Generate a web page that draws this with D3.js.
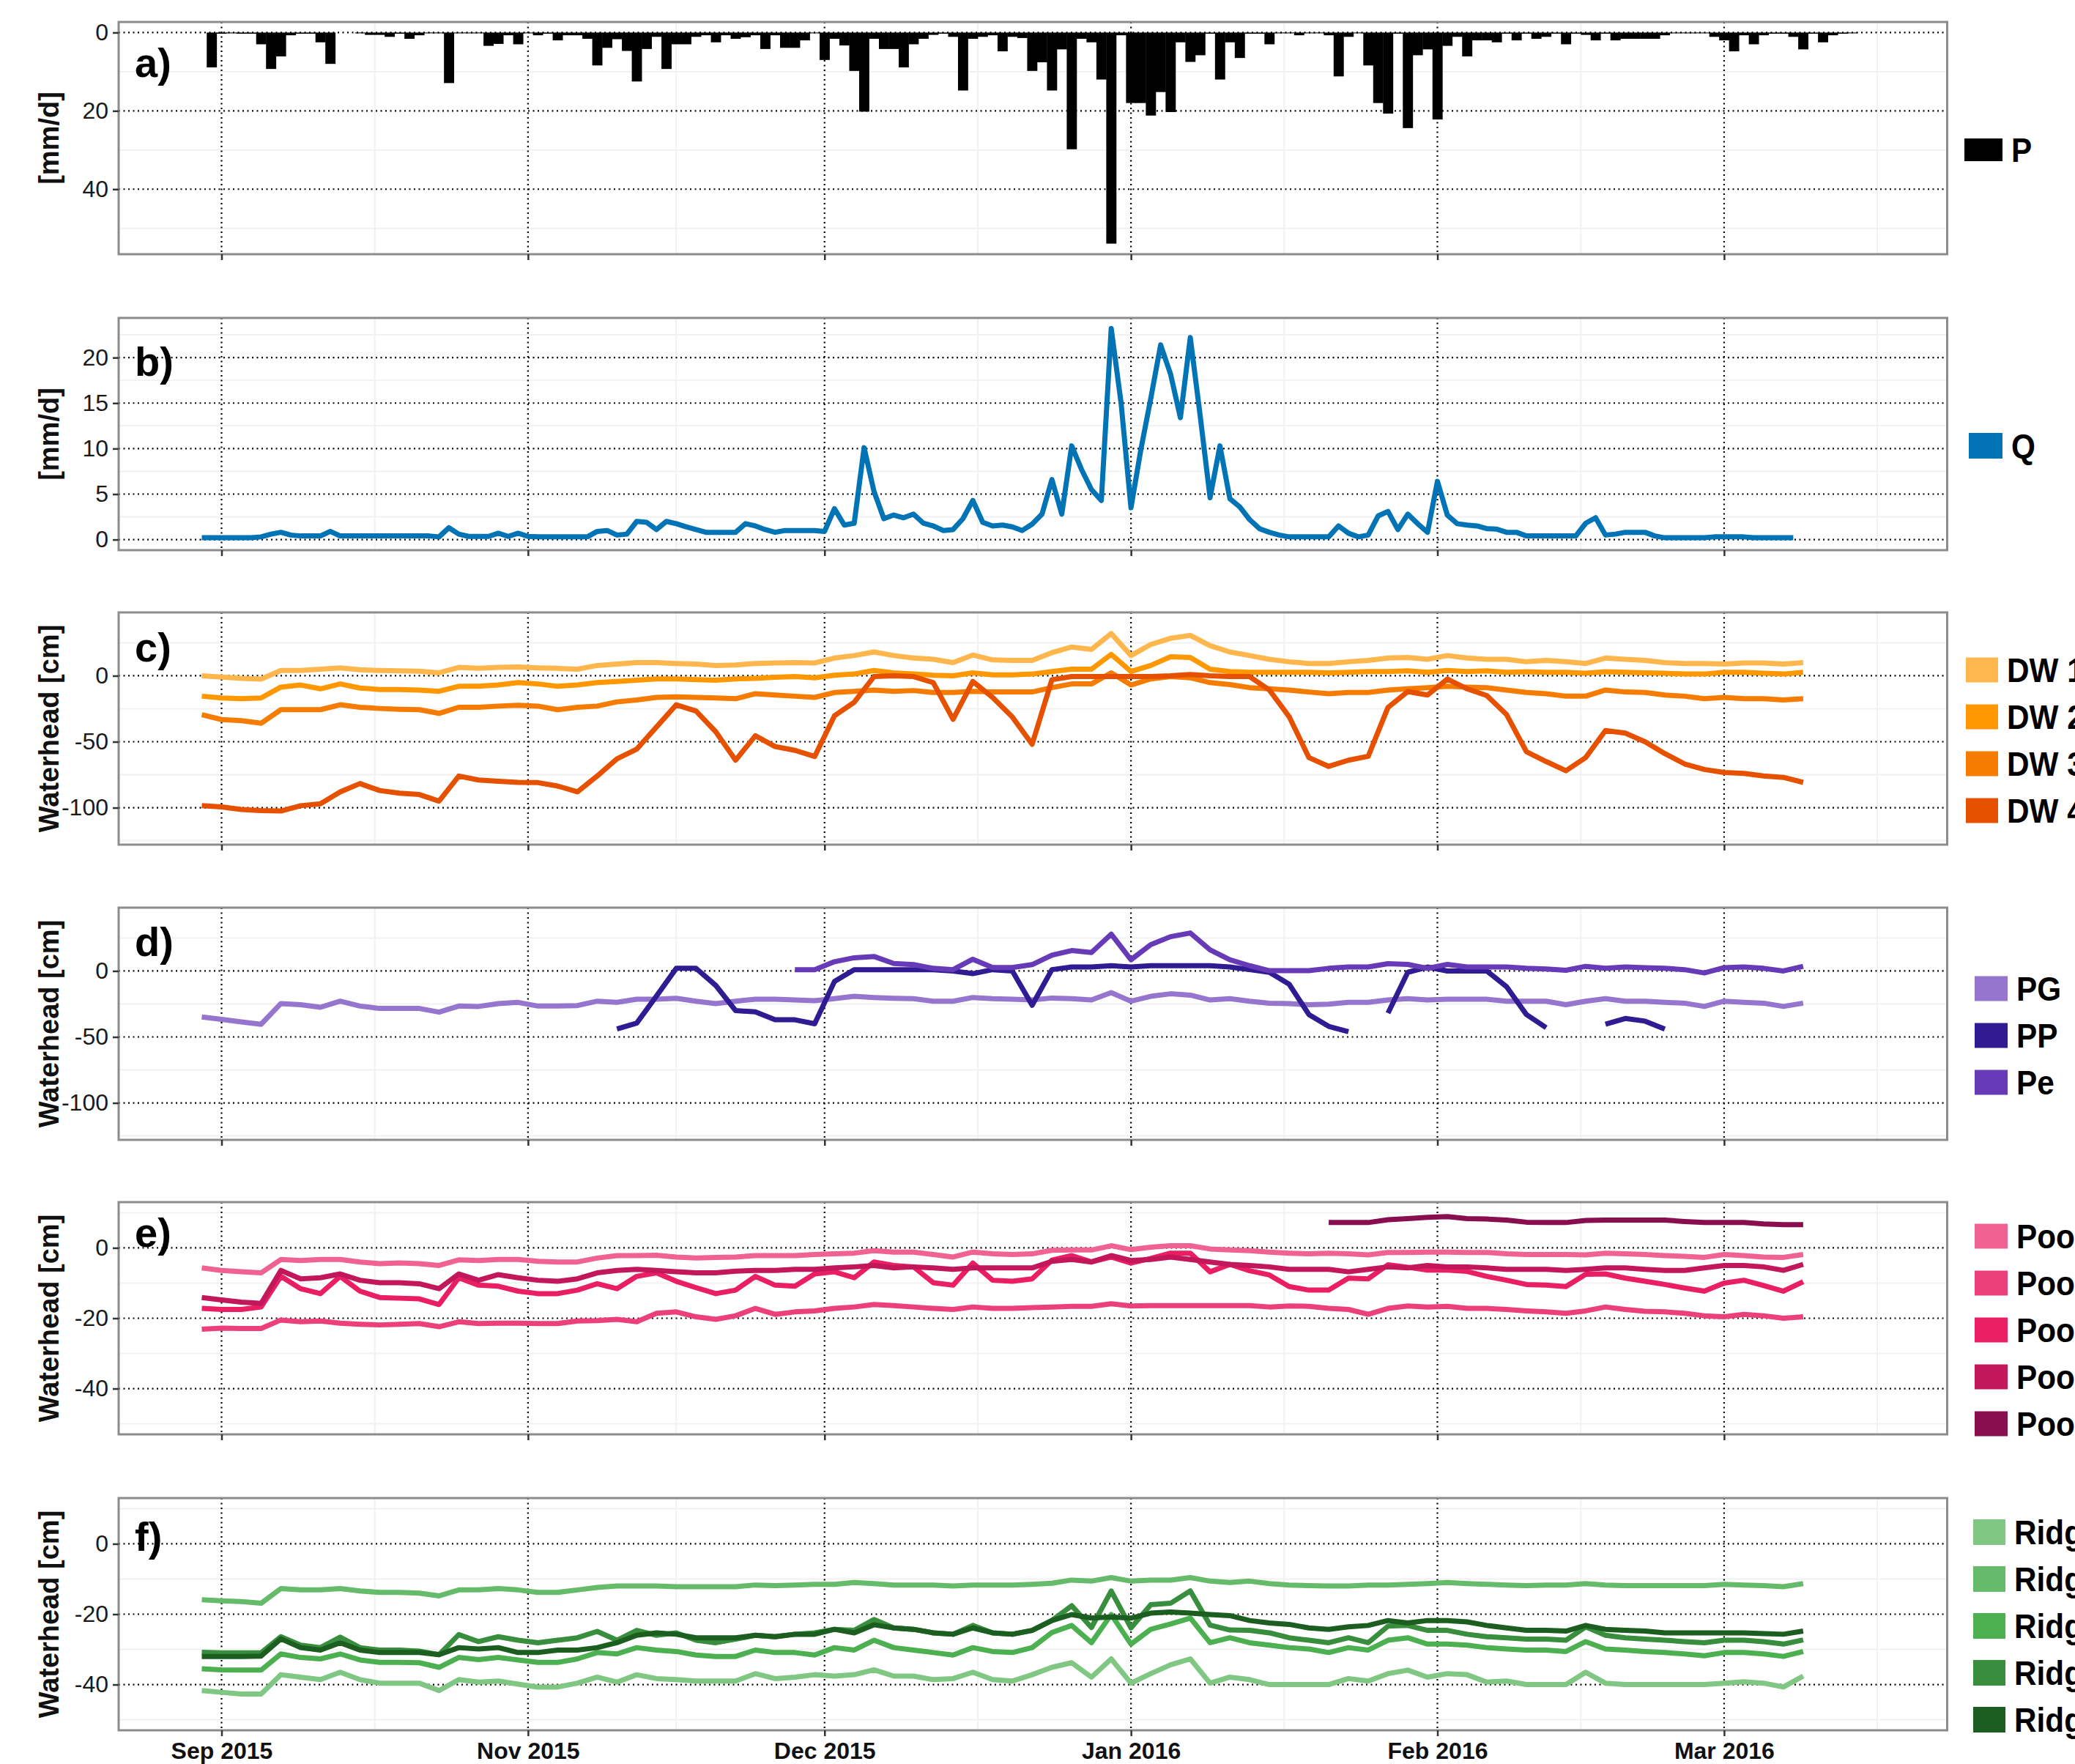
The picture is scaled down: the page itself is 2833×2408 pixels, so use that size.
<!DOCTYPE html>
<html>
<head>
<meta charset="utf-8">
<script src="https://cdn.jsdelivr.net/npm/d3@7"></script>
<style>
  html, body { margin: 0; padding: 0; background: #fff; }
  svg { display: block; }
</style>
</head>
<body>
<svg id="chart" width="2833" height="2408"></svg>
<script>
// ---------------------------------------------------------------------------
// Data
// ---------------------------------------------------------------------------

// a) daily precipitation P [mm/d], one value per day from this date
const precipStart = "2015-09-30";
const precip = [
  8.9, 0.3, 0.2, 0.3, 0.3, 3.0, 9.3, 6.1, 0.7, 0.3,
  0.3, 2.5, 8.0, 0, 0, 0.2, 0.6, 0.6, 1.1, 0.3,
  1.6, 0.7, 0.2, 0.2, 12.9, 0.2, 0.2, 0.2, 3.4, 2.9,
  0.7, 3.0, 0.2, 0.7, 0.3, 2.0, 0.7, 0.7, 1.6, 8.4,
  3.9, 1.7, 4.7, 12.5, 4.2, 1.1, 9.3, 3.0, 3.0, 1.1,
  0.7, 2.5, 0.7, 1.6, 1.2, 0.7, 4.2, 0.7, 3.9, 3.9,
  2.0, 0.2, 7.0, 1.6, 3.3, 9.8, 20.2, 1.6, 4.2, 4.2,
  8.9, 3.0, 1.6, 0.6, 0.3, 1.1, 14.8, 1.6, 1.1, 0.7,
  4.8, 1.1, 1.4, 9.8, 7.6, 14.8, 4.3, 29.8, 1.6, 2.5,
  12.0, 53.9, 0.7, 18.0, 18.0, 21.2, 15.2, 20.3, 2.5, 7.5,
  5.8, 0.3, 12.0, 2.5, 6.5, 0.3, 0.3, 3.0, 0.2, 0.2,
  0.7, 0.2, 0.2, 0.7, 11.2, 1.1, 0.2, 8.4, 18.0, 20.7,
  0.3, 24.4, 5.8, 4.3, 22.2, 3.4, 1.1, 6.1, 2.0, 2.0,
  2.5, 0.3, 2.0, 0.3, 1.6, 1.1, 0.3, 3.0, 0.3, 0.6,
  2.0, 0.3, 2.0, 1.6, 1.6, 1.6, 1.6, 0.7, 0.2, 0.2,
  0.2, 0.2, 1.1, 2.0, 4.8, 0.7, 3.0, 0.7, 0.3, 0.3,
  1.1, 4.3, 0.3, 2.5, 0.7, 0.3, 0.2
];

// b) daily discharge Q [mm/d]
const dischargeStart = "2015-09-29";
const discharge = [
  0.2, 0.2, 0.2, 0.2, 0.2, 0.2, 0.3, 0.6, 0.8, 0.5, 0.4,
  0.4, 0.4, 0.9, 0.4, 0.4, 0.4, 0.4, 0.4, 0.4, 0.4,
  0.4, 0.4, 0.4, 0.3, 1.3, 0.6, 0.35, 0.35, 0.35, 0.7,
  0.35, 0.7, 0.35, 0.3, 0.3, 0.3, 0.3, 0.3, 0.3, 0.9,
  1.0, 0.5, 0.6, 2.0, 1.9, 1.1, 2.0, 1.75, 1.4, 1.1,
  0.8, 0.8, 0.8, 0.8, 1.75, 1.5, 1.1, 0.8, 1.0, 1.0,
  1.0, 1.0, 0.9, 3.4, 1.6, 1.8, 10.1, 5.3, 2.3, 2.7,
  2.4, 2.8, 1.8, 1.5, 1.0, 1.1, 2.3, 4.3, 1.9, 1.5,
  1.6, 1.4, 1.0, 1.7, 2.8, 6.6, 2.8, 10.3, 7.7, 5.5,
  4.3, 23.2, 15.0, 3.5, 9.9, 15.5, 21.4, 18.2, 13.4, 22.2,
  13.6, 4.6, 10.3, 4.5, 3.6, 2.2, 1.2, 0.8, 0.5, 0.3,
  0.3, 0.3, 0.3, 0.3, 1.5, 0.7, 0.3, 0.5, 2.6, 3.1,
  1.1, 2.8, 1.75, 0.8, 6.4, 2.7, 1.75, 1.6, 1.5, 1.2,
  1.15, 0.8, 0.8, 0.4, 0.4, 0.4, 0.4, 0.4, 0.4, 1.8,
  2.4, 0.5, 0.6, 0.8, 0.8, 0.8, 0.4, 0.2, 0.2, 0.2,
  0.2, 0.2, 0.3, 0.3, 0.3, 0.3, 0.2, 0.2, 0.2, 0.2, 0.2
];

// c)-f) water heads [cm], one reading every second day
const headStepDays = 2;
const headStart = "2015-09-29";

const dw1 = [
  0, -1, -2, -2.5, 4, 4, 5, 6, 4.5, 4,
  3.7, 3.5, 2.2, 6.3, 5.6, 6.3, 6.7, 6, 5.6, 5,
  7.8, 8.8, 10, 10, 9.3, 8.8, 7.8, 8.2, 9.3, 9.7,
  10, 9.7, 13.4, 15.3, 18, 15.3, 13.4, 12.5, 10, 15.7,
  12, 11.6, 11.6, 17.5, 21.8, 20, 32, 15.3, 23.7, 28.4,
  30.6, 22.8, 18, 15.3, 12.5, 10.6, 9.3, 9.3, 10.6, 11.6,
  13.4, 13.8, 12.5, 15.3, 13.4, 12.5, 12.5, 10.6, 11.6, 10.6,
  9.3, 13.4, 12.5, 11.6, 10, 9.3, 9.3, 8.8, 9.7, 9.7,
  8.8, 10
];
const dw2 = [
  -15.5, -16.8, -17.4, -16.8, -8.6, -7, -9.9, -6.2, -9.3, -10.4,
  -10.4, -10.8, -11.8, -8, -8, -7, -5.2, -6.2, -8, -7,
  -5.2, -4.3, -3.4, -2.4, -2.4, -3, -3.4, -2.4, -1.9, -1.1,
  -0.6, -1.5, 0.4, 1.3, 4, 2.2, 1.3, 0.4, 0, 2.2,
  0.7, 0.7, 1.3, 3.2, 5, 5, 16.2, 3.2, 7.8, 14.4,
  13.8, 5, 3.2, 2.6, 2.6, 2.6, 2.6, 2.2, 2.6, 3.2,
  3.2, 3.7, 2.6, 4, 3.2, 3.7, 2.6, 3, 2.6, 2.6,
  1.9, 3, 2.6, 2.2, 1.9, 1.3, 1.3, 2.6, 2.6, 1.9,
  1.3, 2.6
];
const dw3 = [
  -29.5, -33.2, -34, -36, -25.7, -25.7, -25.7, -22, -23.9, -24.8,
  -25.4, -25.7, -28.5, -23.9, -23.9, -23, -22.4, -23, -25.7, -23.9,
  -23, -19.8, -18.3, -16.4, -16, -16.4, -16.8, -17.4, -13.6, -14.6,
  -15.5, -16.4, -12.7, -11.8, -10.8, -11.8, -11.2, -12.7, -12.7, -11.8,
  -12.3, -12.3, -12.3, -9, -6.2, -6.2, 2.2, -7, -2.4, -0.6,
  -1.5, -5.2, -6.7, -9, -9.9, -10.8, -12.3, -13.6, -12.7, -12.7,
  -10.8, -9.9, -9, -8, -8.6, -9, -10.8, -12.7, -13.6, -15.5,
  -15.5, -10.8, -12.3, -12.7, -14.6, -15.5, -17.4, -16.4, -17.4, -17.4,
  -18.3, -17.4
];
const dw4 = [
  -98.5, -99.4, -101.3, -102.2, -102.5, -98.5, -97, -88, -81.7, -87,
  -89, -90, -95, -76, -79, -80, -80.8, -81, -83.6, -88,
  -76, -63, -55.6, -38.8, -22, -26.7, -42.5, -64, -45.5, -53.7,
  -56.5, -61.2, -30.4, -20.1, -0.6, 0, -0.6, -5.2, -33, -4.3,
  -16.4, -31.3, -51.9, -3, -0.6, -0.6, -0.6, -0.6, -0.6, 0,
  1, 0, -0.6, -0.6, -10.8, -31, -62, -68.7, -64, -61,
  -24, -12, -14.6, -2.5, -9.9, -15, -29.5, -57.5, -65, -72,
  -62, -41.5, -43.5, -50, -59, -66.8, -71, -73.3, -74, -76,
  -77, -80.8
];

const pg = [
  -34.9, -36.7, -38.6, -40.4, -24.7, -25.6, -27.5, -22.9, -26.6, -28.4,
  -28.4, -28.4, -31.2, -26.6, -26.9, -24.7, -23.8, -26.6, -26.6, -26.2,
  -22.9, -23.8, -21.4, -21.4, -20.7, -22.9, -24.7, -22.9, -21.4, -21.4,
  -22, -22.5, -21, -19.2, -20.1, -20.7, -21, -22.9, -22.9, -20.1,
  -21, -21.4, -22, -20.5, -21, -22, -16.4, -22.9, -19.2, -17.3,
  -18.3, -22, -21, -22.9, -24.4, -24.7, -25.6, -25.1, -23.8, -23.8,
  -22, -21, -22, -21.4, -21.4, -21.4, -22.9, -22.9, -22.9, -25.6,
  -22.9, -21, -22.9, -22.9, -23.8, -24.4, -26.9, -22.9, -23.8, -24.4,
  -26.9, -24.4
];
// PP starts later and has logger gaps (null)
const ppStart = "2015-11-10";
const pp = [
  -44, -39.5, -19, 2, 2, -11, -30, -31, -37,
  -37, -40, -8, 1, 1, 1, 1, 1, 0, -2,
  1, 0, -26, 1, 3, 3, 4, 3, 4, 4,
  4, 4, 3, 1, -1, -10, -33, -42, -46, null,
  -32, -1, 3, 0, 0, 0, -12, -33, -43, null,
  null, -40.4, -36, -38, -44
];
const peStart = "2015-11-28";
const pe = [
  1, 1, 7, 10, 11, 5.7, 4.8, 2, 1, 8.9,
  2.6, 2.6, 4.8, 12, 15.5, 14, 27.9, 8.5, 20, 26,
  28.8, 16, 8.5, 4, 0.2, 0.2, 0.2, 2, 3, 3,
  5.5, 5, 2, 5, 3, 3, 3, 2, 1.5, 0.5,
  3.5, 2, 3, 2.5, 2, 1, -1.5, 2.5, 3, 2,
  0, 3.5
];

const pool1 = [
  -5.7, -6.4, -6.8, -7.1, -3.3, -3.6, -3.3, -3.3, -4, -4.5,
  -4.3, -4.5, -5, -3.4, -3.6, -3.3, -3.3, -3.8, -4, -4,
  -2.9, -2.2, -2.2, -2.1, -2.6, -2.9, -2.7, -2.6, -2.2, -2.2,
  -2.2, -1.9, -1.7, -1.5, -0.8, -1.2, -1.2, -1.9, -2.6, -1.2,
  -1.7, -1.9, -1.7, -0.7, -0.6, -0.6, 0.6, -0.5, 0.2, 0.6,
  0.6, -0.3, -0.6, -0.8, -1.2, -1.5, -1.7, -1.5, -1.7, -2,
  -1.3, -1.3, -1.2, -1.2, -1.3, -1.3, -1.7, -1.9, -1.9, -1.9,
  -2, -1.5, -1.7, -1.9, -2.2, -2.4, -2.7, -1.9, -2.2, -2.6,
  -2.7, -1.9
];
const pool2 = [
  -23.1, -22.8, -22.9, -22.9, -20.5, -21, -20.8, -21.4, -21.7, -21.9,
  -21.7, -21.5, -22.4, -21, -21.5, -21.4, -21.4, -21.5, -21.5, -20.8,
  -20.7, -20.3, -21, -18.6, -18.2, -19.6, -20.3, -19.3, -17.2, -18.9,
  -18.2, -17.9, -17.2, -16.8, -16.1, -16.4, -16.8, -17.2, -17.5, -16.8,
  -17.2, -17.2, -17, -16.8, -16.6, -16.6, -15.9, -16.5, -16.4, -16.4,
  -16.4, -16.4, -16.4, -16.4, -16.8, -16.5, -16.6, -17.2, -17.5, -18.9,
  -17.2, -16.5, -16.8, -16.6, -17.2, -17.2, -17.5, -17.9, -18.2, -18.6,
  -17.9, -16.8, -17.5, -18, -18.2, -18.6, -19.3, -19.6, -18.9, -19.3,
  -20, -19.6
];
const pool3 = [
  -17.2, -17.5, -17.5, -16.8, -8.1, -11.6, -13, -8.1, -12.3, -14.1,
  -14.3, -14.5, -16.1, -8.5, -10.6, -10.9, -12.3, -13, -13, -12,
  -10.2, -11.6, -8.1, -7.1, -9.5, -11.3, -13, -12, -8.1, -10.6,
  -10.9, -7.4, -6.8, -8.5, -4, -5, -5.4, -9.9, -10.6, -4.3,
  -9.2, -9.5, -8.8, -3.5, -2.2, -4, -2.6, -4.3, -3, -1.5,
  -1.5, -6.8, -4.7, -6.5, -7.7, -11, -12, -12, -8.6, -8.8,
  -4.8, -5.5, -6.3, -6.3, -6.7, -8.1, -9.2, -10.4, -10.6, -11,
  -7.5, -7.4, -8.6, -9.5, -10.4, -11.4, -12.3, -10, -9.2, -10.7,
  -12.3, -9.6
];
const pool4 = [
  -14.1, -14.8, -15.4, -15.8, -6.4, -8.8, -8.5, -7.4, -9.2, -9.9,
  -9.9, -10.2, -11.6, -7.4, -9.2, -7.6, -8.5, -9.2, -9.5, -8.8,
  -7.1, -6.4, -6.1, -6.4, -6.8, -7.1, -7.1, -6.6, -6.4, -6.4,
  -6.1, -6.1, -5.7, -5.4, -5, -5.7, -5.4, -5.7, -6.1, -5.7,
  -5.7, -5.7, -5.7, -3.8, -3.3, -4, -2.2, -3.6, -3.3, -2.6,
  -3.3, -4, -4.7, -5, -5.4, -6.1, -6.1, -6.1, -6.8, -6.1,
  -5.4, -5.7, -5, -5.4, -5.4, -5.7, -6.1, -6.1, -6.1, -6.4,
  -6.1, -5.7, -5.7, -6.1, -6.4, -6.4, -5.7, -5, -5, -5.4,
  -6.4, -4.7
];
const pool5Start = "2016-01-21";
const pool5 = [
  7.2, 7.2, 7.2,
  8.0, 8.3, 8.7, 8.9, 8.3, 8.2, 7.9, 7.3, 7.2, 7.2,
  7.8, 7.9, 7.9, 7.9, 7.9, 7.5, 7.2, 7.2, 7.2, 6.8,
  6.6, 6.6
];

const ridge1 = [
  -41.7, -42.2, -42.7, -42.7, -37.2, -37.9, -38.6, -36.5, -38.6, -39.6,
  -39.6, -39.6, -41.7, -38.6, -39.3, -39, -39.9, -40.7, -40.7, -39.6,
  -37.9, -39.3, -37.2, -38.3, -38.6, -39, -39, -39, -36.9, -38.3,
  -37.9, -37.2, -37.6, -37.2, -35.8, -37.6, -37.6, -38.6, -38.3, -36.5,
  -38.6, -39, -37.2, -35.1, -33.8, -37.9, -32.7, -39.6, -36.9, -34.4,
  -32.7, -39.6, -37.9, -38.6, -40, -40, -40, -40, -38.3, -39,
  -36.9, -35.9, -37.9, -36.9, -37.2, -39.3, -39, -40, -40, -40,
  -36.5, -39.6, -40, -40, -40, -40, -40, -39.6, -39.2, -39.6,
  -40.7, -37.6
];
const ridge2 = [
  -15.9, -16.2, -16.4, -16.9, -12.7, -13.1, -13.1, -12.7, -13.4, -13.8,
  -13.8, -14, -14.8, -13.1, -13.1, -12.7, -13.1, -13.8, -13.8, -13.1,
  -12.4, -12, -12, -12, -12.2, -12.2, -12.2, -12.2, -11.7, -11.9,
  -11.7, -11.5, -11.5, -11, -11.3, -11.7, -11.7, -11.7, -12, -11.7,
  -11.7, -11.7, -11.5, -11.2, -10.3, -10.6, -9.6, -10.6, -10.3, -10.3,
  -9.6, -10.6, -11, -10.6, -11.3, -11.7, -11.9, -12, -12, -11.7,
  -11.7, -11.5, -11.3, -11, -11.3, -11.5, -11.7, -11.9, -11.7, -11.7,
  -11.3, -11.7, -11.9, -11.9, -11.9, -11.9, -11.9, -11.5, -11.7, -11.9,
  -12.2, -11.3
];
const ridge3 = [
  -35.5, -35.8, -35.9, -35.9, -31.3, -32.3, -32.7, -31.3, -33, -33.7,
  -33.7, -33.8, -35.1, -32.3, -32.9, -32.3, -33, -33.7, -33.7, -32.7,
  -30.9, -31.3, -29.5, -30.2, -30.6, -31.6, -32, -32, -30.2, -30.9,
  -30.9, -31.6, -29.5, -30.2, -27.4, -29.5, -30.2, -30.9, -31.6, -29.5,
  -30.6, -30.9, -29.5, -25.2, -23.2, -28.1, -20.1, -28.5, -24.3, -22.8,
  -21.1, -28.1, -26.7, -28.1, -28.8, -29.5, -29.9, -30.9, -29.5, -30.2,
  -27.4, -26.7, -28.5, -28.5, -28.8, -29.5, -29.9, -30.2, -30.2, -30.6,
  -27.8, -29.9, -30.2, -30.6, -30.9, -31.3, -31.8, -30.9, -30.9, -31.3,
  -32, -30.6
];
const ridge4 = [
  -30.8, -31, -31, -31, -26.4, -28.8, -29.5, -26.5, -29.5, -30.2,
  -30.2, -30.5, -31.5, -25.8, -27.8, -26.4, -27.4, -28.1, -27.4, -26.7,
  -24.9, -27.4, -24.6, -26, -25.3, -27.4, -28.1, -27.1, -26, -26.4,
  -25.7, -25.3, -24.3, -24.6, -21.5, -23.9, -24.3, -25.3, -25.7, -23.2,
  -25.3, -25.7, -24.6, -21.8, -17.6, -23.8, -13.4, -23.9, -17.3, -16.9,
  -13.4, -23.1, -24.5, -24.6, -25.3, -26.7, -27.4, -28.1, -26.7, -28.1,
  -23.4, -23.2, -24.6, -24.6, -25.7, -26.4, -26.7, -27.1, -27.1, -27.4,
  -23.6, -26, -26.7, -27.1, -27.4, -27.8, -28.1, -27.4, -27.4, -27.8,
  -28.5, -27.3
];
const ridge5 = [
  -32, -32, -32, -31.9, -27, -29.5, -30.2, -28.1, -30.2, -30.9,
  -30.9, -30.9, -31.5, -29.5, -29.9, -29.5, -30.9, -30.9, -30.2, -30.2,
  -29.5, -28.1, -26, -25.3, -25.7, -26.7, -26.7, -26.7, -26, -26.4,
  -25.7, -25.7, -24.3, -25.3, -23, -23.9, -24.3, -25.3, -25.7, -23.9,
  -25.3, -25.7, -24.6, -21.8, -20.1, -21.1, -20.8, -21.1, -19.7, -19.4,
  -19.7, -20.1, -20.4, -21.8, -22.5, -22.9, -23.9, -24.3, -23.6, -23.2,
  -21.8, -22.5, -21.8, -21.8, -22.2, -23.2, -23.9, -24.6, -24.6, -24.8,
  -23.2, -24.3, -24.6, -24.8, -25.3, -25.3, -25.3, -25.3, -25.3, -25.5,
  -25.7, -24.8
];

// x axis breaks and their printed labels
const monthTickDates = ["2015-10-01", "2015-11-01", "2015-12-01", "2016-01-01", "2016-02-01", "2016-03-01"];
const monthTickLabels = ["Sep 2015", "Nov 2015", "Dec 2015", "Jan 2016", "Feb 2016", "Mar 2016"];

// series names and colours per panel
const dwNames = ["DW 1", "DW 2", "DW 3", "DW 4"];
const dwColors = ["#ffb74d", "#ff9800", "#f57c00", "#e65100"];
const peatNames = ["PG", "PP", "Pe"];
const peatColors = ["#9575cd", "#311b92", "#673ab7"];
const poolNames = ["Pool 1", "Pool 2", "Pool 3", "Pool 4", "Pool 5"];
const poolColors = ["#f06292", "#ec407a", "#e91e63", "#c2185b", "#880e4f"];
const ridgeNames = ["Ridge 1", "Ridge 2", "Ridge 3", "Ridge 4", "Ridge 5"];
const ridgeColors = ["#81c784", "#66bb6a", "#4caf50", "#388e3c", "#1b5e20"];

// ---------------------------------------------------------------------------
// Drawing
// ---------------------------------------------------------------------------
const FONT = '"Liberation Sans", Arial, Helvetica, sans-serif';
const W = 2833, H = 2408;
const plotLeft = 162, plotRight = 2658.5;
const panelTops = [30, 434, 836, 1239, 1641, 2045];
const panelH = 317;

const parse = d3.utcParse("%Y-%m-%d");
const seriesPoints = (start, step, values) =>
  values.map((v, k) => ({ t: d3.utcDay.offset(parse(start), k * step), v }));

// shared time axis, padded on both sides of the observation period
const x = d3.scaleUtc()
  .domain([new Date(Date.UTC(2015, 8, 20, 14, 10)), new Date(Date.UTC(2016, 2, 23, 13, 40))])
  .range([plotLeft, plotRight]);

const majorX = monthTickDates.map(parse);
const minorX = [];
const extended = [d3.utcMonth.offset(majorX[0], -1), ...majorX, d3.utcMonth.offset(majorX[majorX.length - 1], 1)];
for (let i = 0; i < extended.length - 1; i++) {
  const mid = new Date((extended[i].getTime() + extended[i + 1].getTime()) / 2);
  const [d0, d1] = x.domain();
  if (mid > d0 && mid < d1) minorX.push(mid);
}

const expand = (lo, hi) => { const r = hi - lo; return [lo - 0.05 * r, hi + 0.05 * r]; };
const pMax = d3.max(precip), qMax = d3.max(discharge);

const mk = (names, colors, specs) => names.map((n, i) => ({ name: n, color: colors[i], ...specs[i] }));

const panels = [
  {
    tag: "a)", title: "[mm/d]", bars: true, reversed: true,
    domain: expand(0, pMax), ticks: [0, 20, 40], minor: [10, 30, 50],
    series: [{ name: "P", color: "#000000", start: precipStart, step: 1, values: precip }],
    tagDy: 75, legendX: 2682, keyW: 52, keyH: 31
  },
  {
    tag: "b)", title: "[mm/d]",
    domain: expand(0, qMax), ticks: [0, 5, 10, 15, 20], minor: [2.5, 7.5, 12.5, 17.5, 22.5],
    series: [{ name: "Q", color: "#0273b5", start: dischargeStart, step: 1, values: discharge }],
    tagDy: 79, legendX: 2688, keyW: 46, keyH: 35
  },
  {
    tag: "c)", title: "Waterhead [cm]",
    domain: expand(-120, 40), ticks: [-100, -50, 0], minor: [-125, -75, -25, 25],
    series: mk(dwNames, dwColors, [dw1, dw2, dw3, dw4].map(v => ({ start: headStart, step: headStepDays, values: v }))),
    tagDy: 67, legendX: 2684, keyW: 44, keyH: 34
  },
  {
    tag: "d)", title: "Waterhead [cm]",
    domain: expand(-120, 40), ticks: [-100, -50, 0], minor: [-125, -75, -25, 25],
    series: mk(peatNames, peatColors, [
      { start: headStart, step: headStepDays, values: pg },
      { start: ppStart, step: headStepDays, values: pp },
      { start: peStart, step: headStepDays, values: pe }
    ]),
    tagDy: 66, legendX: 2696, keyW: 45, keyH: 34
  },
  {
    tag: "e)", title: "Waterhead [cm]",
    domain: expand(-50, 10), ticks: [-40, -20, 0], minor: [-50, -30, -10, 10],
    series: mk(poolNames, poolColors, [
      { start: headStart, step: headStepDays, values: pool1 },
      { start: headStart, step: headStepDays, values: pool2 },
      { start: headStart, step: headStepDays, values: pool3 },
      { start: headStart, step: headStepDays, values: pool4 },
      { start: pool5Start, step: headStepDays, values: pool5 }
    ]),
    tagDy: 61, legendX: 2696, keyW: 45, keyH: 34
  },
  {
    tag: "f)", title: "Waterhead [cm]",
    domain: expand(-50, 10), ticks: [-40, -20, 0], minor: [-50, -30, -10, 10],
    series: mk(ridgeNames, ridgeColors, [ridge1, ridge2, ridge3, ridge4, ridge5].map(v => ({ start: headStart, step: headStepDays, values: v }))),
    tagDy: 72, legendX: 2694, keyW: 44, keyH: 35
  }
];

const svg = d3.select("#chart");
svg.append("rect").attr("width", W).attr("height", H).attr("fill", "#ffffff");
const defs = svg.append("defs");

panels.forEach((p, idx) => {
  const top = panelTops[idx], bottom = top + panelH;
  const y = d3.scaleLinear().domain(p.domain).range(p.reversed ? [top, bottom] : [bottom, top]);
  const g = svg.append("g").attr("class", "panel");

  // minor grid
  g.append("g").selectAll("line").data(p.minor).join("line")
    .attr("x1", plotLeft).attr("x2", plotRight)
    .attr("y1", d => y(d)).attr("y2", d => y(d))
    .attr("stroke", "#f1f1f1").attr("stroke-width", 2);
  g.append("g").selectAll("line").data(minorX).join("line")
    .attr("x1", d => x(d)).attr("x2", d => x(d))
    .attr("y1", top).attr("y2", bottom)
    .attr("stroke", "#f1f1f1").attr("stroke-width", 2);

  // major grid (dotted)
  g.append("g").selectAll("line").data(p.ticks).join("line")
    .attr("x1", plotLeft).attr("x2", plotRight)
    .attr("y1", d => y(d)).attr("y2", d => y(d))
    .attr("stroke", "#000").attr("stroke-width", 2.2).attr("stroke-dasharray", "2 4.5");
  g.append("g").selectAll("line").data(majorX).join("line")
    .attr("x1", d => x(d)).attr("x2", d => x(d))
    .attr("y1", top).attr("y2", bottom)
    .attr("stroke", "#000").attr("stroke-width", 2.2).attr("stroke-dasharray", "2 4.5");

  // data
  const clipId = "clip" + idx;
  defs.append("clipPath").attr("id", clipId).append("rect")
    .attr("x", plotLeft).attr("y", top).attr("width", plotRight - plotLeft).attr("height", panelH);
  const dg = g.append("g").attr("clip-path", `url(#${clipId})`);

  if (p.bars) {
    const s = p.series[0];
    const pts = seriesPoints(s.start, s.step, s.values);
    dg.selectAll("rect").data(pts).join("rect")
      .attr("x", d => x(d3.utcHour.offset(d.t, -12)))
      .attr("width", d => x(d3.utcHour.offset(d.t, 12)) - x(d3.utcHour.offset(d.t, -12)) + 0.4)
      .attr("y", y(0))
      .attr("height", d => Math.max(0, y(d.v) - y(0)))
      .attr("fill", s.color);
  } else {
    const line = d3.line()
      .defined(d => d.v !== null && d.v !== undefined)
      .x(d => x(d.t)).y(d => y(d.v));
    p.series.forEach(s => {
      dg.append("path")
        .datum(seriesPoints(s.start, s.step, s.values))
        .attr("d", line)
        .attr("fill", "none")
        .attr("stroke", s.color)
        .attr("stroke-width", 7)
        .attr("stroke-linejoin", "round")
        .attr("stroke-linecap", "butt");
    });
  }

  // panel border
  g.append("rect")
    .attr("x", plotLeft).attr("y", top)
    .attr("width", plotRight - plotLeft).attr("height", panelH)
    .attr("fill", "none").attr("stroke", "#8c8c8c").attr("stroke-width", 3);

  // left axis
  const ya = g.append("g").attr("transform", `translate(${plotLeft},0)`)
    .call(d3.axisLeft(y).tickValues(p.ticks).tickSize(8).tickPadding(6).tickFormat(d => String(d)));
  ya.select(".domain").remove();
  ya.selectAll("line").attr("stroke", "#333").attr("stroke-width", 2.5);
  ya.selectAll("text").attr("font-family", FONT).attr("font-size", 32).attr("fill", "#1a1a1a");

  // bottom axis (labels only on the last panel)
  const last = idx === panels.length - 1;
  const xa = g.append("g").attr("transform", `translate(0,${bottom})`)
    .call(d3.axisBottom(x).tickValues(majorX).tickSize(8).tickPadding(8)
      .tickFormat((d, i) => last ? monthTickLabels[i] : ""));
  xa.select(".domain").remove();
  xa.selectAll("line").attr("stroke", "#333").attr("stroke-width", 2.5);
  xa.selectAll("text").attr("font-family", FONT).attr("font-size", 32)
    .attr("font-weight", "bold").attr("fill", "#111");

  // axis title
  g.append("text")
    .attr("transform", `translate(80,${(top + bottom) / 2}) rotate(-90)`)
    .attr("text-anchor", "middle")
    .attr("font-family", FONT).attr("font-size", 38).attr("font-weight", "bold")
    .attr("fill", "#111")
    .text(p.title);

  // panel tag
  g.append("text")
    .attr("x", 184).attr("y", top + p.tagDy)
    .attr("font-family", FONT).attr("font-size", 56).attr("font-weight", "bold")
    .attr("fill", "#000")
    .text(p.tag);

  // legend (long names run past the right edge of the figure)
  const n = p.series.length, spacing = 64;
  const centerY = (top + bottom) / 2 + 16;
  const lg = g.append("g");
  p.series.forEach((s, j) => {
    const cy = centerY + (j - (n - 1) / 2) * spacing;
    lg.append("rect")
      .attr("x", p.legendX).attr("y", cy - p.keyH / 2)
      .attr("width", p.keyW).attr("height", p.keyH)
      .attr("fill", s.color);
    lg.append("text")
      .attr("transform", `translate(${p.legendX + p.keyW + 12},${cy}) scale(0.92,1)`)
      .attr("dy", "0.36em")
      .attr("font-family", FONT).attr("font-size", 46).attr("font-weight", "bold")
      .attr("fill", "#000")
      .text(s.name);
  });
});
</script>
</body>
</html>
